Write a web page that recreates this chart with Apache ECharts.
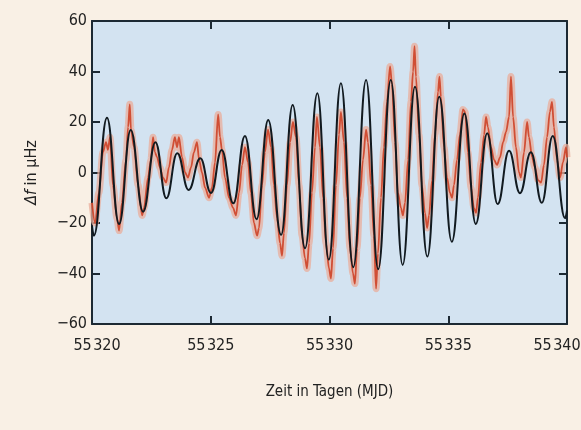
<!DOCTYPE html>
<html>
<head>
<meta charset="utf-8">
<script src="https://cdn.jsdelivr.net/npm/echarts@6/dist/echarts.min.js"></script>
<style>
  html, body { margin: 0; padding: 0; background: #f9f0e5; }
  #chart { width: 581px; height: 430px; }
</style>
</head>
<body>
<div id="chart"></div>
<script>
// MJD start of the x axis
const mjd0 = 55320;

// model (black) — extrema, days after mjd0
const modelDay = [0.00, 0.08, 0.63, 1.14, 1.63, 2.15, 2.67, 3.13, 3.59, 4.07, 4.56, 5.01, 5.46, 5.95,
  6.44, 6.93, 7.42, 7.96, 8.45, 8.97, 9.49, 9.97, 10.48, 11.00, 11.54, 12.05, 12.58, 13.08, 13.60,
  14.12, 14.62, 15.15, 15.68, 16.16, 16.64, 17.08, 17.56, 18.02, 18.48, 18.94, 19.40, 19.92, 20.00];
const modelDf = [-21, -25, 21.7, -20.4, 16.8, -15.5, 12, -10.2, 7.6, -6.9, 5.6, -8.1, 8.9, -12.2,
  14.5, -18.5, 20.8, -24.7, 26.7, -30, 31.4, -34.5, 35.3, -37.5, 36.6, -38.3, 36.6, -36.6, 34,
  -33.3, 30, -27.4, 23.4, -20.4, 15.5, -12.5, 8.6, -8.2, 8, -12, 14.5, -18.1, -15];

// measurement (red)
const obsDay = [0.00, 0.13, 0.29, 0.46, 0.59, 0.67, 0.76, 0.88, 1.05, 1.14, 1.26, 1.43, 1.52, 1.59,
  1.64, 1.77, 1.94, 2.11, 2.19, 2.36, 2.48, 2.57, 2.65, 2.74, 2.86, 2.99, 3.12, 3.24, 3.37, 3.49,
  3.58, 3.66, 3.79, 3.92, 4.04, 4.17, 4.29, 4.42, 4.51, 4.63, 4.76, 4.93, 5.05, 5.18, 5.31, 5.39,
  5.47, 5.60, 5.77, 5.94, 6.06, 6.19, 6.32, 6.44, 6.57, 6.69, 6.82, 6.95, 7.03, 7.16, 7.28, 7.41,
  7.54, 7.66, 7.79, 7.92, 8.00, 8.08, 8.21, 8.34, 8.46, 8.59, 8.72, 8.84, 8.97, 9.05, 9.14, 9.26,
  9.39, 9.47, 9.60, 9.73, 9.85, 9.98, 10.06, 10.15, 10.27, 10.40, 10.48, 10.61, 10.74, 10.86,
  10.99, 11.07, 11.16, 11.28, 11.41, 11.54, 11.62, 11.75, 11.87, 11.96, 12.04, 12.17, 12.29,
  12.42, 12.55, 12.63, 12.76, 12.88, 13.01, 13.09, 13.18, 13.31, 13.43, 13.52, 13.58, 13.64,
  13.77, 13.89, 14.02, 14.11, 14.19, 14.32, 14.44, 14.57, 14.63, 14.69, 14.82, 14.95, 15.07,
  15.16, 15.24, 15.37, 15.49, 15.62, 15.71, 15.83, 15.96, 16.08, 16.17, 16.25, 16.38, 16.51,
  16.59, 16.67, 16.80, 16.93, 17.05, 17.18, 17.31, 17.43, 17.56, 17.64, 17.73, 17.85, 17.98,
  18.06, 18.19, 18.32, 18.40, 18.53, 18.65, 18.78, 18.91, 19.03, 19.16, 19.28, 19.37, 19.45,
  19.58, 19.71, 19.83, 19.96, 20.00];
const obsDf = [-12, -20, -8, 8, 12, 9, 14, -5, -18, -23, -12, 5, 18, 27,
  17, 10, -5, -17, -14, -2, 5, 14, 8, 6, 2, -2, -4, 2, 9, 14,
  10, 14, 6, 0, -2, 2, 8, 12, 5, 0, -6, -10, -6, 4, 23, 14,
  9, -2, -10, -14, -17, -8, 3, 10, 4, -8, -20, -25, -22, -5, 8, 17,
  10, -5, -18, -28, -33, -24, -5, 12, 20, 14, -5, -25, -34, -38, -28, -8,
  10, 22, 10, -10, -28, -38, -42, -30, -5, 15, 24, 12, -10, -30,
  -40, -44, -30, -10, 5, 17, 12, -5, -25, -46, -32, -10, 10,
  28, 42, 35, 12, -8, -14, -17, -12, 5, 28, 40, 50, 38,
  15, -5, -16, -22, -17, -3, 15, 32, 38, 30, 10, -2, -8,
  -10, -5, 5, 15, 25, 24, 8, -6, -14, -16, -10, 4, 15,
  22, 18, 10, 5, 3, 6, 12, 16, 22, 38, 22, 10, 0,
  -2, 8, 20, 14, 6, 2, -3, -4, 3, 14, 24, 28, 18,
  5, -2, 4, 10, 6];

const model = modelDay.map((d, i) => [mjd0 + d, modelDf[i]]);
const obs = obsDay.map((d, i) => [mjd0 + d, obsDf[i]]);

const font = "'Liberation Sans Narrow', 'DejaVu Sans Condensed', sans-serif";
const axisCol = '#1c2933';

function xLab(v) {
  let s = String(v);
  s = s.slice(0, 2) + '\u200a' + s.slice(2);
  // end labels sit a bit inside the frame
  if (v === 55320) return '{mn|' + s + '}';
  if (v === 55340) return '{mx|' + s + '}';
  return s;
}
function yLab(v) {
  return v < 0 ? '\u2212' + (-v) : String(v);
}

const chart = echarts.init(document.getElementById('chart'));
chart.setOption({
  backgroundColor: '#f9f0e5',
  animation: false,
  grid: {
    left: 92, right: 14, top: 21, bottom: 106,
    outerBoundsMode: 'none', containLabel: false,
    show: true, backgroundColor: '#d3e3f1', borderWidth: 0
  },
  xAxis: [{
    type: 'value', min: 55320, max: 55340, interval: 5,
    axisLine: { onZero: false, lineStyle: { color: axisCol, width: 2 } },
    axisTick: { inside: true, length: 8, lineStyle: { color: axisCol, width: 2 } },
    axisLabel: {
      formatter: xLab, color: '#222', fontFamily: font, fontSize: 16, margin: 14,
      rich: {
        mn: { fontFamily: font, fontSize: 16, color: '#222', padding: [0, 0, 0, 10] },
        mx: { fontFamily: font, fontSize: 16, color: '#222', padding: [0, 20, 0, 0] }
      }
    },
    splitLine: { show: false },
    name: 'Zeit in Tagen (MJD)', nameLocation: 'middle', nameGap: 61,
    nameTextStyle: { color: '#222', fontFamily: font, fontSize: 15 }
  }, {
    type: 'value', min: 55320, max: 55340, interval: 5, position: 'top',
    axisLine: { onZero: false, lineStyle: { color: axisCol, width: 2 } },
    axisTick: { inside: true, length: 8, lineStyle: { color: axisCol, width: 2 } },
    axisLabel: { show: false }, splitLine: { show: false }
  }],
  yAxis: [{
    type: 'value', min: -60, max: 60, interval: 20,
    axisLine: { show: true, onZero: false, lineStyle: { color: axisCol, width: 2 } },
    axisTick: { show: true, inside: true, length: 8, lineStyle: { color: axisCol, width: 2 } },
    axisLabel: { formatter: yLab, color: '#222', fontFamily: font, fontSize: 16, margin: 5 },
    splitLine: { show: false },
    name: '{d|Δ}{f|f}{t| in µHz}', nameLocation: 'middle', nameGap: 52, nameRotate: 90,
    nameTextStyle: {
      color: '#222', fontFamily: font, fontSize: 16,
      rich: {
        d: { fontFamily: font, fontSize: 16, fontStyle: 'italic', color: '#222' },
        f: { fontFamily: font, fontSize: 16, fontStyle: 'italic', color: '#222' },
        t: { fontFamily: font, fontSize: 16, color: '#222' }
      }
    }
  }, {
    type: 'value', min: -60, max: 60, interval: 20, position: 'right',
    axisLine: { show: true, onZero: false, lineStyle: { color: axisCol, width: 2 } },
    axisTick: { show: true, inside: true, length: 8, lineStyle: { color: axisCol, width: 2 } },
    axisLabel: { show: false }, splitLine: { show: false }
  }],
  series: [
    {
      // pale halo of the measurement
      type: 'line', data: obs, showSymbol: false, smooth: 0.3, smoothMonotone: 'x',
      lineStyle: { color: '#e9ad9b', width: 7, opacity: 0.75 }, z: 1
    },
    {
      type: 'line', data: obs, showSymbol: false, smooth: 0.3, smoothMonotone: 'x',
      lineStyle: { color: '#cc3b1f', width: 1.8, opacity: 0.85 }, z: 2
    },
    {
      type: 'line', data: model, showSymbol: false, smooth: 0.45, smoothMonotone: 'x',
      lineStyle: { color: '#111a20', width: 2 }, z: 3
    }
  ]
});
</script>
</body>
</html>
